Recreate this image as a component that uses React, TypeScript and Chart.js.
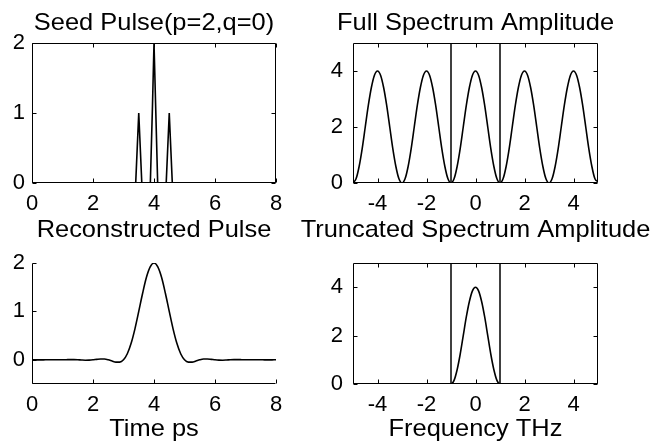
import React, { useEffect, useRef } from "react";
import { Chart, registerables } from "chart.js";

Chart.register(...registerables);

const W = 650;
const H = 445;
const FONT = '"Liberation Sans", Arial, Helvetica, sans-serif';
const X_AXIS_H = 50;
const TICK_SIZE = 22;

// ---- tick labels ----
const timeTicks = [0, 2, 4, 6, 8];
const freqTicks = [-4, -2, 0, 2, 4];
const seedTicks = [0, 1, 2];
const specTicks = [0, 2, 4];
const reconTicks = [0, 1, 2];

// ---- axis ranges ----
const timeRange = [0, 8];
const freqRange = [-5, 5];
const seedRange = [0, 2];
const specRange = [0, 5];
const reconRange = [-0.5, 2];

// ---- titles ----
const titles = [
  "Seed Pulse(p=2,q=0)",
  "Full Spectrum Amplitude",
  "Reconstructed Pulse",
  "Truncated Spectrum Amplitude",
];
const xLabels = ["", "", "Time ps", "Frequency THz"];

// ---- seed pulse ----
const seedX = [0, 3.4, 3.5, 3.6, 3.88, 3.95, 4.0, 4.06, 4.12, 4.4, 4.5, 4.6, 8];
const seedY = [0, 0, 1, 0, 0, 1.1, 2, 1.0, 0, 0, 1, 0, 0];

// ---- full spectrum ----
const specX = [
  -5, -4.875, -4.75, -4.625, -4.5, -4.375, -4.25, -4.125,
  -4, -3.875, -3.75, -3.625, -3.5, -3.375, -3.25, -3.125,
  -3, -2.875, -2.75, -2.625, -2.5, -2.375, -2.25, -2.125,
  -2, -1.875, -1.75, -1.625, -1.5, -1.375, -1.25, -1.125,
  -1, -0.875, -0.75, -0.625, -0.5, -0.375, -0.25, -0.125,
  0, 0.125, 0.25, 0.375, 0.5, 0.625, 0.75, 0.875,
  1, 1.125, 1.25, 1.375, 1.5, 1.625, 1.75, 1.875,
  2, 2.125, 2.25, 2.375, 2.5, 2.625, 2.75, 2.875,
  3, 3.125, 3.25, 3.375, 3.5, 3.625, 3.75, 3.875,
  4, 4.125, 4.25, 4.375, 4.5, 4.625, 4.75, 4.875,
  5,
];
const specY = [
  0, 0.15, 0.59, 1.23, 2.0, 2.77, 3.41, 3.85,
  4, 3.85, 3.41, 2.77, 2.0, 1.23, 0.59, 0.15,
  0, 0.15, 0.59, 1.23, 2.0, 2.77, 3.41, 3.85,
  4, 3.85, 3.41, 2.77, 2.0, 1.23, 0.59, 0.15,
  0, 0.15, 0.59, 1.23, 2.0, 2.77, 3.41, 3.85,
  4, 3.85, 3.41, 2.77, 2.0, 1.23, 0.59, 0.15,
  0, 0.15, 0.59, 1.23, 2.0, 2.77, 3.41, 3.85,
  4, 3.85, 3.41, 2.77, 2.0, 1.23, 0.59, 0.15,
  0, 0.15, 0.59, 1.23, 2.0, 2.77, 3.41, 3.85,
  4, 3.85, 3.41, 2.77, 2.0, 1.23, 0.59, 0.15,
  0.05,
];

// ---- truncated spectrum ----
const truncX = [
  -5, -1, -0.875, -0.75, -0.625, -0.5, -0.375, -0.25, -0.125,
  0, 0.125, 0.25, 0.375, 0.5, 0.625, 0.75, 0.875, 1, 5,
];
const truncY = [
  0, 0, 0.15, 0.59, 1.23, 2.0, 2.77, 3.41, 3.85,
  4, 3.85, 3.41, 2.77, 2.0, 1.23, 0.59, 0.15, 0, 0,
];

// ---- cutoff lines ----
const cutoffX = [-1, 1];

// ---- reconstructed pulse ----
const reconX = [
  0, 0.125, 0.25, 0.375, 0.5, 0.625, 0.75, 0.875,
  1, 1.125, 1.25, 1.375, 1.5, 1.625, 1.75, 1.875,
  2, 2.125, 2.25, 2.375, 2.5, 2.625, 2.75, 2.875,
  3, 3.125, 3.25, 3.375, 3.5, 3.625, 3.75, 3.875,
  4, 4.125, 4.25, 4.375, 4.5, 4.625, 4.75, 4.875,
  5, 5.125, 5.25, 5.375, 5.5, 5.625, 5.75, 5.875,
  6, 6.125, 6.25, 6.375, 6.5, 6.625, 6.75, 6.875,
  7, 7.125, 7.25, 7.375, 7.5, 7.625, 7.75, 7.875,
  8,
];
const reconY = [
  0, -0.001, -0.002, -0.001, 0, 0.001, 0.002, 0.001,
  0, 0.002, 0.004, 0.003, 0, -0.005, -0.008, -0.006,
  0, 0.009, 0.016, 0.015, 0, -0.025, -0.048, -0.049,
  0, 0.125, 0.34, 0.64, 1.0, 1.37, 1.7, 1.92,
  2.0, 1.92, 1.7, 1.37, 1.0, 0.64, 0.34, 0.125,
  0, -0.049, -0.048, -0.025, 0, 0.015, 0.016, 0.009,
  0, -0.006, -0.008, -0.005, 0, 0.003, 0.004, 0.002,
  0, 0.001, 0.002, 0.001, 0, -0.001, -0.002, -0.001,
  0,
];

type Series = { x: number[]; y: number[]; w: number; smooth: boolean };
type Panel = {
  l: number; t: number; r: number; b: number;
  xr: number[]; yr: number[];
  xt: number[]; yt: number[];
  box: boolean;
  title: string; xlabel: string;
  titleBase: number;
  yPad: number;
  series: Series[];
};

const panels: Panel[] = [
  {
    l: 32, t: 43, r: 276, b: 183, xr: timeRange, yr: seedRange, xt: timeTicks, yt: seedTicks,
    box: true, title: titles[0], xlabel: xLabels[0], titleBase: 30, yPad: 7,
    series: [{ x: seedX, y: seedY, w: 1.6, smooth: false }],
  },
  {
    l: 353, t: 43, r: 598, b: 183, xr: freqRange, yr: specRange, xt: freqTicks, yt: specTicks,
    box: true, title: titles[1], xlabel: xLabels[1], titleBase: 30, yPad: 10,
    series: [
      { x: specX, y: specY, w: 1.6, smooth: true },
      { x: [cutoffX[0], cutoffX[0]], y: specRange, w: 1.5, smooth: false },
      { x: [cutoffX[1], cutoffX[1]], y: specRange, w: 1.5, smooth: false },
    ],
  },
  {
    l: 32, t: 263, r: 276, b: 384, xr: timeRange, yr: reconRange, xt: timeTicks, yt: reconTicks,
    box: false, title: titles[2], xlabel: xLabels[2], titleBase: 237, yPad: 7,
    series: [{ x: reconX, y: reconY, w: 1.6, smooth: true }],
  },
  {
    l: 353, t: 263, r: 598, b: 384, xr: freqRange, yr: specRange, xt: freqTicks, yt: specTicks,
    box: true, title: titles[3], xlabel: xLabels[3], titleBase: 237, yPad: 10,
    series: [
      { x: truncX, y: truncY, w: 1.6, smooth: true },
      { x: [cutoffX[0], cutoffX[0]], y: specRange, w: 1.5, smooth: false },
      { x: [cutoffX[1], cutoffX[1]], y: specRange, w: 1.5, smooth: false },
    ],
  },
];

function drawStretched(ctx: CanvasRenderingContext2D, text: string, cx: number, base: number) {
  const sx = 1.06;
  ctx.save();
  ctx.translate(cx, base);
  ctx.scale(sx, 1);
  ctx.fillText(text, 0, 0);
  ctx.restore();
}

function framePlugin(p: Panel) {
  return {
    id: "frame",
    afterDraw(chart: any) {
      const ctx = chart.ctx;
      const { left, top, right, bottom } = chart.chartArea;
      const xs = chart.scales.x;
      const ys = chart.scales.y;
      const L = Math.round(left) + 0.5;
      const R = Math.round(right) - 0.5;
      const T = Math.round(top) + 0.5;
      const B = Math.round(bottom) - 0.5;
      ctx.save();
      ctx.strokeStyle = "#000";
      ctx.lineWidth = 1;
      ctx.beginPath();
      ctx.moveTo(L, T);
      ctx.lineTo(L, B);
      ctx.lineTo(R, B);
      if (p.box) {
        ctx.lineTo(R, T);
        ctx.lineTo(L, T);
      }
      ctx.stroke();
      const tl = 4;
      ctx.beginPath();
      p.xt.forEach((v) => {
        const px = Math.round(xs.getPixelForValue(v)) + 0.5;
        ctx.moveTo(px, B);
        ctx.lineTo(px, B - tl);
        if (p.box) {
          ctx.moveTo(px, T);
          ctx.lineTo(px, T + tl);
        }
      });
      p.yt.forEach((v) => {
        const py = Math.round(ys.getPixelForValue(v)) + 0.5;
        ctx.moveTo(L, py);
        ctx.lineTo(L + tl, py);
        if (p.box) {
          ctx.moveTo(R, py);
          ctx.lineTo(R - tl, py);
        }
      });
      ctx.stroke();
      const cx = (left + right) / 2;
      ctx.fillStyle = "#000";
      ctx.font = `24px ${FONT}`;
      ctx.textAlign = "center";
      ctx.textBaseline = "alphabetic";
      drawStretched(ctx, p.title, cx, p.titleBase);
      if (p.xlabel) drawStretched(ctx, p.xlabel, cx, 436);
      ctx.restore();
    },
  };
}

function makeChart(canvas: HTMLCanvasElement, p: Panel) {
  const zero = (s: any) => {
    s.paddingLeft = 0;
    s.paddingRight = 0;
    s.paddingTop = 0;
    s.paddingBottom = 0;
  };
  return new Chart(canvas, {
    type: "line",
    data: {
      datasets: p.series.map((s) => ({
        data: s.x.map((x, i) => ({ x, y: s.y[i] })),
        borderColor: "#000",
        backgroundColor: "#000",
        borderWidth: s.w,
        pointRadius: 0,
        fill: false,
        tension: 0,
        cubicInterpolationMode: s.smooth ? "monotone" : "default",
      })),
    },
    options: {
      responsive: false,
      animation: false,
      devicePixelRatio: 1,
      events: [],
      layout: {
        autoPadding: false,
        padding: { left: 0, top: p.t, right: W - p.r, bottom: H - p.b - X_AXIS_H },
      },
      plugins: {
        legend: { display: false },
        tooltip: { enabled: false },
        title: { display: false },
      },
      scales: {
        x: {
          type: "linear",
          min: p.xr[0],
          max: p.xr[1],
          grid: { display: false, drawTicks: false, tickLength: 0 },
          border: { display: false },
          ticks: {
            color: "#000",
            font: { family: FONT, size: TICK_SIZE },
            padding: 8,
            maxRotation: 0,
            autoSkip: false,
          },
          afterBuildTicks: (s: any) => {
            s.ticks = p.xt.map((v) => ({ value: v }));
          },
          afterFit: (s: any) => {
            s.height = X_AXIS_H;
            zero(s);
          },
        },
        y: {
          type: "linear",
          min: p.yr[0],
          max: p.yr[1],
          grid: { display: false, drawTicks: false, tickLength: 0 },
          border: { display: false },
          ticks: {
            color: "#000",
            font: { family: FONT, size: TICK_SIZE },
            padding: p.yPad,
            autoSkip: false,
          },
          afterBuildTicks: (s: any) => {
            s.ticks = p.yt.map((v) => ({ value: v }));
          },
          afterFit: (s: any) => {
            s.width = p.l;
            zero(s);
          },
        },
      },
    } as any,
    plugins: [framePlugin(p)],
  });
}

export default function App() {
  const refs = [
    useRef<HTMLCanvasElement>(null),
    useRef<HTMLCanvasElement>(null),
    useRef<HTMLCanvasElement>(null),
    useRef<HTMLCanvasElement>(null),
  ];
  useEffect(() => {
    const charts = panels.map((p, i) => makeChart(refs[i].current as HTMLCanvasElement, p));
    return () => charts.forEach((c) => c.destroy());
  }, []);
  return (
    <div style={{ position: "absolute", left: 0, top: 0, width: W, height: H, background: "#fff" }}>
      {panels.map((_, i) => (
        <canvas
          key={i}
          ref={refs[i]}
          width={W}
          height={H}
          style={{ position: "absolute", left: 0, top: 0, width: W, height: H, pointerEvents: "none" }}
        />
      ))}
    </div>
  );
}
